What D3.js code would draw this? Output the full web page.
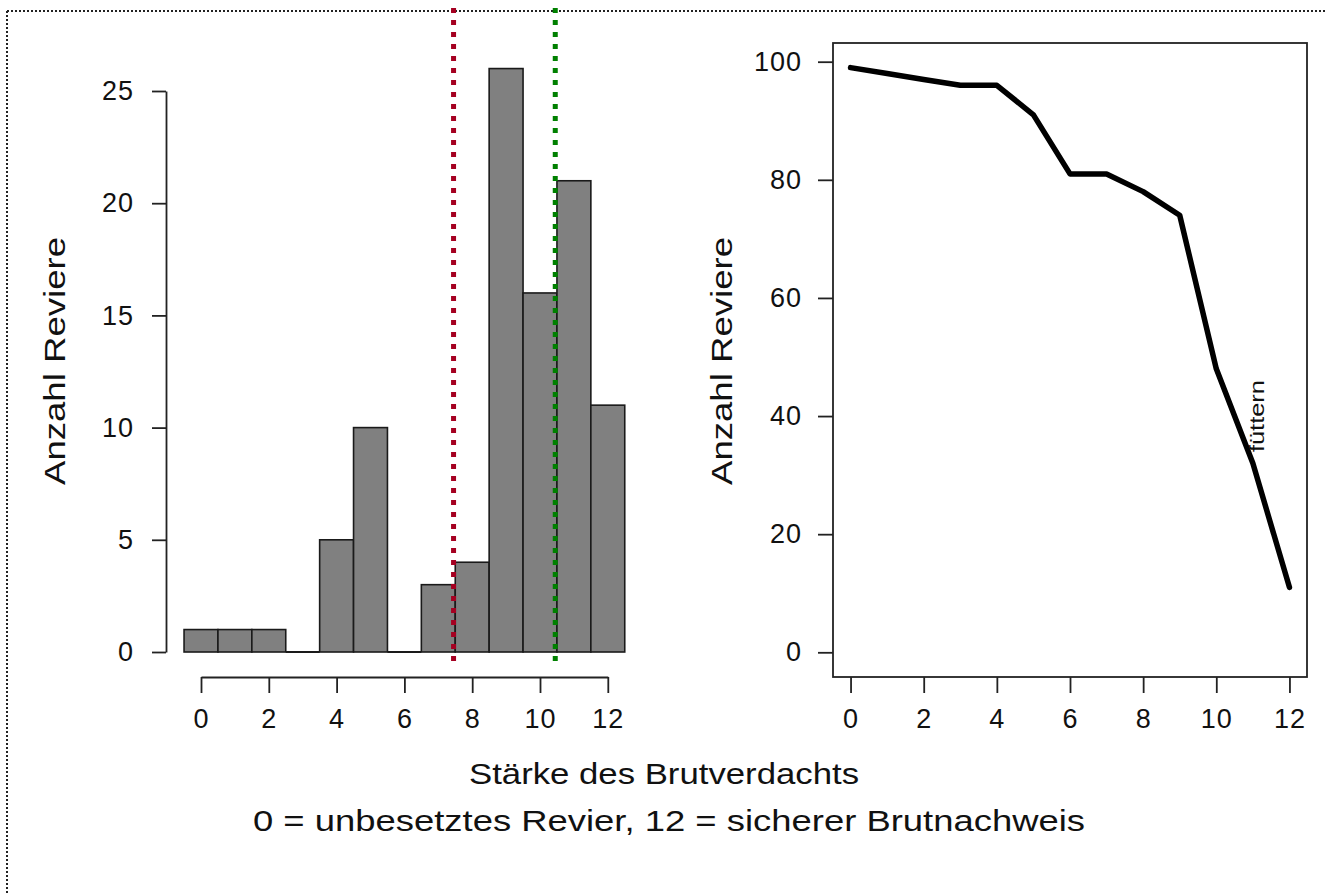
<!DOCTYPE html>
<html><head><meta charset="utf-8">
<script src="https://cdn.jsdelivr.net/npm/d3@7"></script>
<style>
html,body{margin:0;padding:0;background:#fff;}
svg{display:block;font-family:"Liberation Sans",Arial,sans-serif;}
</style></head>
<body>
<script>
// ---- data ----
const scores = [0,1,2,3,4,5,6,7,8,9,10,11,12];
const counts = [1,1,1,0,5,10,0,3,4,26,16,21,11];
const cumulative = [99,98,97,96,96,91,81,81,78,74,48,32,11];
const leftYTicks = [0,5,10,15,20,25];
const xTicks = [0,2,4,6,8,10,12];
const rightYTicks = [0,20,40,60,80,100];
const thresholdRed = 7.45;
const thresholdGreen = 10.45;
const yLabel = "Anzahl Reviere";
const xTitle1 = "Stärke des Brutverdachts";
const xTitle2 = "0 = unbesetztes Revier, 12 = sicherer Brutnachweis";
const annotation = "füttern";
const annotationAt = [11.15, 40];

const W = 1325, H = 895;
const svg = d3.select("body").append("svg").attr("width", W).attr("height", H);

// dotted frame (top & left)
svg.append("line").attr("x1",7).attr("x2",W).attr("y1",11).attr("y2",11)
  .attr("stroke","#222").attr("stroke-width",2).attr("stroke-dasharray","2,2");
svg.append("line").attr("x1",7).attr("x2",7).attr("y1",11).attr("y2",H)
  .attr("stroke","#222").attr("stroke-width",2).attr("stroke-dasharray","2,2");

const tickFont = 27;

// ---- left histogram ----
const xL = d3.scaleLinear().domain([0,12]).range([201, 607.8]);
const yL = d3.scaleLinear().domain([0,25]).range([652, 91]);

const gL = svg.append("g");
gL.selectAll("rect.bar").data(scores.filter((d,i) => counts[i] > 0)).join("rect")
  .attr("class","bar")
  .attr("x", d => xL(d-0.5))
  .attr("width", d => xL(d+0.5)-xL(d-0.5))
  .attr("y", d => yL(counts[d]))
  .attr("height", d => yL(0)-yL(counts[d]))
  .attr("fill","#808080").attr("stroke","#1a1a1a").attr("stroke-width",1.6);
// zero-height bins drawn as flat outlines
gL.selectAll("line.zero").data(scores.filter((d,i) => counts[i] === 0)).join("line")
  .attr("class","zero")
  .attr("x1", d => xL(d-0.5)).attr("x2", d => xL(d+0.5))
  .attr("y1", yL(0)).attr("y2", yL(0))
  .attr("stroke","#1a1a1a").attr("stroke-width",1.8);

// left y axis
const axYL = gL.append("g").attr("transform","translate(166,0)")
  .call(d3.axisLeft(yL).tickValues(leftYTicks).tickSize(14).tickPadding(18).tickSizeOuter(0));
// left x axis
const axXL = gL.append("g").attr("transform","translate(0,677)")
  .call(d3.axisBottom(xL).tickValues(xTicks).tickSize(16).tickPadding(16).tickSizeOuter(0));
[axYL, axXL].forEach(a => {
  a.select(".domain").attr("stroke","#222").attr("stroke-width",1.8);
  a.selectAll(".tick line").attr("stroke","#222").attr("stroke-width",1.8);
  a.selectAll(".tick text").attr("font-size",tickFont).attr("fill","#111")
   .attr("font-family","Liberation Sans, Arial, sans-serif").attr("letter-spacing",1);
});

// threshold lines
[[thresholdRed,"#A50021"],[thresholdGreen,"#008000"]].forEach(([v,c]) => {
  gL.append("line").attr("x1",xL(v)).attr("x2",xL(v)).attr("y1",8).attr("y2",663)
    .attr("stroke",c).attr("stroke-width",5).attr("stroke-dasharray","5,7");
});

// left y label
gL.append("text").attr("transform","translate(65,361) rotate(-90)")
  .attr("text-anchor","middle").attr("font-size",30).attr("fill","#111")
  .attr("textLength",248).attr("lengthAdjust","spacingAndGlyphs").text(yLabel);

// ---- right cumulative chart ----
const xR = d3.scaleLinear().domain([-0.48,12.48]).range([833, 1307]);
const yR = d3.scaleLinear().domain([0,100]).range([652.3, 61.7]);
const gR = svg.append("g");
gR.append("rect").attr("x",833).attr("y",43).attr("width",1307-833).attr("height",677-43)
  .attr("fill","none").attr("stroke","#222").attr("stroke-width",1.8);

const axYR = gR.append("g").attr("transform","translate(833,0)")
  .call(d3.axisLeft(yR).tickValues(rightYTicks).tickSize(15).tickPadding(16).tickSizeOuter(0));
const axXR = gR.append("g").attr("transform","translate(0,677)")
  .call(d3.axisBottom(xR).tickValues(xTicks).tickSize(16).tickPadding(16).tickSizeOuter(0));
[axYR, axXR].forEach(a => {
  a.select(".domain").remove();
  a.selectAll(".tick line").attr("stroke","#222").attr("stroke-width",1.8);
  a.selectAll(".tick text").attr("font-size",tickFont).attr("fill","#111")
   .attr("font-family","Liberation Sans, Arial, sans-serif").attr("letter-spacing",1);
});

const line = d3.line().x((d,i) => xR(scores[i])).y(d => yR(d));
gR.append("path").datum(cumulative).attr("d", line)
  .attr("fill","none").attr("stroke","#000").attr("stroke-width",5.5)
  .attr("stroke-linejoin","round").attr("stroke-linecap","round");

gR.append("text")
  .attr("transform",`translate(${xR(annotationAt[0])+6},${yR(annotationAt[1])}) rotate(-90)`)
  .attr("text-anchor","middle").attr("font-size",20).attr("fill","#111")
  .attr("textLength",72).attr("lengthAdjust","spacingAndGlyphs").text(annotation);

gR.append("text").attr("transform","translate(732,361) rotate(-90)")
  .attr("text-anchor","middle").attr("font-size",30).attr("fill","#111")
  .attr("textLength",248).attr("lengthAdjust","spacingAndGlyphs").text(yLabel);

// ---- bottom titles ----
svg.append("text").attr("x",664).attr("y",784).attr("text-anchor","middle")
  .attr("font-size",30).attr("fill","#111")
  .attr("textLength",390).attr("lengthAdjust","spacingAndGlyphs").text(xTitle1);
svg.append("text").attr("x",669).attr("y",831).attr("text-anchor","middle")
  .attr("font-size",30).attr("fill","#111")
  .attr("textLength",832).attr("lengthAdjust","spacingAndGlyphs").text(xTitle2);
</script>
</body></html>
